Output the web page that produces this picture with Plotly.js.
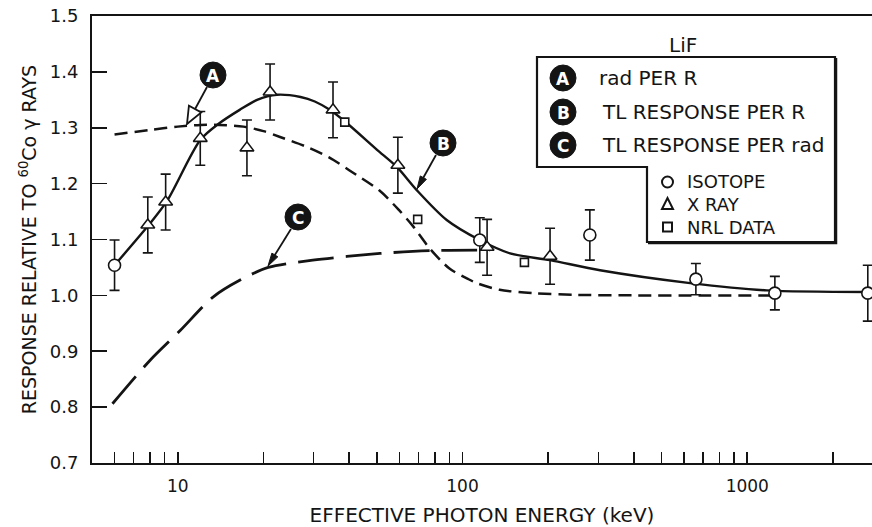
<!DOCTYPE html>
<html>
<head>
<meta charset="utf-8">
<script src="https://cdn.plot.ly/plotly-3.0.1.min.js"></script>
<style>
  html, body { margin: 0; padding: 0; background: #ffffff; }
  #chart { width: 872px; height: 527px; }
</style>
</head>
<body>
<div id="chart"></div>
<script>
// ---- Data ----
// Curve A: rad PER R (short dashes)
const curveA_E = [6, 8, 10, 12, 14, 17, 20, 23, 28, 34, 40, 51, 60, 67, 77, 90, 104, 112, 135, 177, 250, 400, 700, 1250];
const curveA_R = [1.288, 1.296, 1.302, 1.305, 1.305, 1.302, 1.294, 1.283, 1.267, 1.247, 1.224, 1.188, 1.152, 1.124, 1.083, 1.048, 1.030, 1.022, 1.010, 1.004, 1.001, 1.000, 1.000, 1.000];

// Curve B: TL RESPONSE PER R (solid)
const curveB_E = [6, 8, 9.2, 12, 14, 16.5, 19, 22.3, 27, 30.3, 34.2, 39.3, 50, 58.8, 69.2, 88, 115, 147, 203, 304, 630, 1170, 2650];
const curveB_R = [1.054, 1.129, 1.170, 1.278, 1.308, 1.332, 1.350, 1.359, 1.355, 1.347, 1.332, 1.308, 1.261, 1.230, 1.188, 1.135, 1.099, 1.075, 1.063, 1.045, 1.022, 1.009, 1.006];

// Curve C: TL RESPONSE PER rad (long dashes)
const curveC_E = [5.9, 8, 10.2, 13.3, 16.5, 20.8, 29.8, 51.3, 77, 125];
const curveC_R = [0.806, 0.884, 0.937, 0.997, 1.027, 1.050, 1.063, 1.075, 1.080, 1.081];

// Isotope points (open circles)
const isoE = [6, 115, 280, 660, 1250, 2650];
const isoR = [1.054, 1.099, 1.108, 1.029, 1.004, 1.004];
const isoErr = [0.045, 0.040, 0.045, 0.028, 0.030, 0.050];

// X-ray points (open triangles)
const xrayE = [7.85, 9.07, 12.0, 17.5, 21.1, 35.1, 59.3, 122, 203];
const xrayR = [1.126, 1.167, 1.281, 1.264, 1.364, 1.332, 1.233, 1.086, 1.070];
const xrayErr = [0.05, 0.05, 0.048, 0.05, 0.05, 0.05, 0.05, 0.05, 0.05];

// NRL data (open squares)
const nrlE = [38.6, 69.6, 165];
const nrlR = [1.310, 1.136, 1.059];

// Axis ticks
const xTickVals = [6, 7, 8, 9, 10, 20, 30, 40, 50, 60, 70, 80, 90, 100, 200, 300, 400, 500, 600, 700, 800, 900, 1000, 2000];
const xTickText = ['', '', '', '', '10', '', '', '', '', '', '', '', '', '100', '', '', '', '', '', '', '', '', '1000', ''];
const yTickVals = [0.7, 0.8, 0.9, 1.0, 1.1, 1.2, 1.3, 1.4, 1.5];
const yTickText = ['0.7', '0.8', '0.9', '1.0', '1.1', '1.2', '1.3', '1.4', '1.5'];

// Legend / label texts
const curveLabels = ['A', 'B', 'C'];
const curveNames = ['rad PER R', 'TL RESPONSE PER R', 'TL RESPONSE PER rad'];
const pointNames = ['ISOTOPE', 'X RAY', 'NRL DATA'];

// ---- Styling helpers (pixel -> paper) ----
const L = 92, R = 0, T = 16, B = 64, W = 872, H = 527;
const PW = W - L - R, PH = H - T - B;
const px = x => (x - L) / PW;
const py = y => (H - B - y) / PH;
const INK = '#141414';
const FONT = 'DejaVu Sans, Liberation Sans, sans-serif';

const traces = [
  { x: curveA_E, y: curveA_R, mode: 'lines', name: curveNames[0],
    line: { color: INK, width: 2.5, dash: '13px,7px', shape: 'spline', smoothing: 0.8 }, hoverinfo: 'skip' },
  { x: curveC_E, y: curveC_R, mode: 'lines', name: curveNames[2],
    line: { color: INK, width: 2.8, dash: '36px,12px', shape: 'spline', smoothing: 0.8 }, hoverinfo: 'skip' },
  { x: curveB_E, y: curveB_R, mode: 'lines', name: curveNames[1],
    line: { color: INK, width: 2.4, shape: 'spline', smoothing: 0.8 }, hoverinfo: 'skip' },
  { x: nrlE, y: nrlR, mode: 'markers', name: pointNames[2],
    marker: { symbol: 'square', size: 8, color: '#ffffff', line: { color: INK, width: 1.6 } } },
  { x: xrayE, y: xrayR, mode: 'markers', name: pointNames[1],
    error_y: { type: 'data', array: xrayErr, visible: true, color: INK, thickness: 1.6, width: 5 },
    marker: { symbol: 'triangle-up', size: 12, color: '#ffffff', line: { color: INK, width: 1.6 } } },
  { x: isoE, y: isoR, mode: 'markers', name: pointNames[0], cliponaxis: false,
    error_y: { type: 'data', array: isoErr, visible: true, color: INK, thickness: 1.6, width: 5 },
    marker: { symbol: 'circle', size: 12, color: '#ffffff', line: { color: INK, width: 1.6 } } }
];

const shapes = [];
const annotations = [];

// Legend box with notch
shapes.push({
  type: 'path', xref: 'paper', yref: 'paper', layer: 'above',
  path: `M ${px(537)},${py(57)} L ${px(835)},${py(57)} L ${px(835)},${py(242)} L ${px(647)},${py(242)} L ${px(647)},${py(167)} L ${px(537)},${py(167)} Z`,
  fillcolor: '#ffffff', line: { color: INK, width: 2.2 }
});
shapes.push({
  type: 'path', xref: 'paper', yref: 'paper', layer: 'above',
  path: `M ${px(836.5)},${py(58)} L ${px(836.5)},${py(243.5)} L ${px(648)},${py(243.5)}`,
  line: { color: INK, width: 1.5 }
});

annotations.push({ xref: 'paper', yref: 'paper', x: px(683), y: py(45), text: 'LiF', showarrow: false,
  xanchor: 'center', yanchor: 'middle', font: { family: FONT, size: 20, color: INK } });

// Black circle labels (legend + on the curves)
function circleLabel(cx, cy, letter) {
  const r = 13;
  shapes.push({ type: 'circle', xref: 'paper', yref: 'paper', layer: 'above',
    x0: px(cx - r), x1: px(cx + r), y0: py(cy + r), y1: py(cy - r),
    fillcolor: INK, line: { color: INK, width: 1 } });
  annotations.push({ xref: 'paper', yref: 'paper', x: px(cx), y: py(cy + 0.5), text: '<b>' + letter + '</b>',
    showarrow: false, xanchor: 'center', yanchor: 'middle', font: { family: FONT, size: 17, color: '#ffffff' } });
}
const legendRowsY = [78, 112, 145];
for (let i = 0; i < 3; i++) {
  circleLabel(563, legendRowsY[i], curveLabels[i]);
  annotations.push({ xref: 'paper', yref: 'paper', x: px(i === 0 ? 597 : 600), y: py(legendRowsY[i]),
    text: curveNames[i], showarrow: false, xanchor: 'left', yanchor: 'middle',
    font: { family: FONT, size: 20, color: INK } });
}
// Point-type legend entries
const ptRowsY = [182, 204, 227];
shapes.push({ type: 'circle', xref: 'paper', yref: 'paper', layer: 'above',
  x0: px(662), x1: px(673), y0: py(187.5), y1: py(176.5), fillcolor: '#ffffff', line: { color: INK, width: 2 } });
shapes.push({ type: 'path', xref: 'paper', yref: 'paper', layer: 'above',
  path: `M ${px(662)},${py(209)} L ${px(673)},${py(209)} L ${px(667.5)},${py(198)} Z`, fillcolor: '#ffffff', line: { color: INK, width: 2 } });
shapes.push({ type: 'rect', xref: 'paper', yref: 'paper', layer: 'above',
  x0: px(663), x1: px(672), y0: py(231.5), y1: py(222.5), fillcolor: '#ffffff', line: { color: INK, width: 2 } });
for (let i = 0; i < 3; i++) {
  annotations.push({ xref: 'paper', yref: 'paper', x: px(685), y: py(ptRowsY[i]),
    text: pointNames[i], showarrow: false, xanchor: 'left', yanchor: 'middle',
    font: { family: FONT, size: 18, color: INK } });
}

// Curve labels with arrows (drawn as shapes)
circleLabel(213, 75, curveLabels[0]);
circleLabel(443, 143, curveLabels[1]);
circleLabel(298, 217, curveLabels[2]);
const arrows = [
  { tip: [187, 124], tail: [207, 87], len: 17, half: 7, open: true },
  { tip: [417, 189], tail: [436, 155], len: 13, half: 3.5, open: false },
  { tip: [268, 266], tail: [291, 229], len: 13, half: 3.5, open: false }
];
arrows.forEach(a => {
  const dx = a.tail[0] - a.tip[0], dy = a.tail[1] - a.tip[1];
  const d = Math.hypot(dx, dy), ux = dx / d, uy = dy / d;
  const bx = a.tip[0] + ux * a.len, by = a.tip[1] + uy * a.len;
  const nx = -uy, ny = ux;
  shapes.push({ type: 'line', xref: 'paper', yref: 'paper', layer: 'above',
    x0: px(a.open ? bx : a.tip[0] + ux * 4), y0: py(a.open ? by : a.tip[1] + uy * 4),
    x1: px(a.tail[0]), y1: py(a.tail[1]), line: { color: INK, width: 1.8 } });
  shapes.push({ type: 'path', xref: 'paper', yref: 'paper', layer: 'above',
    path: `M ${px(a.tip[0])},${py(a.tip[1])} L ${px(bx + nx * a.half)},${py(by + ny * a.half)} L ${px(bx - nx * a.half)},${py(by - ny * a.half)} Z`,
    fillcolor: a.open ? '#ffffff' : INK, line: { color: INK, width: a.open ? 1.8 : 1 } });
});

const layout = {
  width: W, height: H,
  margin: { l: L, r: R, t: T, b: B, pad: 0 },
  paper_bgcolor: '#ffffff', plot_bgcolor: '#ffffff',
  showlegend: false,
  font: { family: FONT, color: INK },
  xaxis: {
    type: 'log', range: [Math.log10(5), 3.438], autorange: false,
    tickmode: 'array', tickvals: xTickVals, ticktext: xTickText,
    ticks: 'inside', ticklen: 11, tickwidth: 1.6, tickcolor: INK,
    showline: true, linecolor: INK, linewidth: 2, mirror: true,
    showgrid: false, zeroline: false, ticklabelstandoff: 7,
    tickfont: { family: FONT, size: 17, color: INK },
    title: { text: 'EFFECTIVE PHOTON ENERGY (keV)', standoff: 14, font: { family: FONT, size: 20, color: INK } }
  },
  yaxis: {
    range: [0.7, 1.5], autorange: false,
    tickmode: 'array', tickvals: yTickVals, ticktext: yTickText,
    ticks: 'inside', ticklen: 15, tickwidth: 1.6, tickcolor: INK,
    showline: true, linecolor: INK, linewidth: 2,
    showgrid: false, zeroline: false, ticklabelstandoff: 8,
    tickfont: { family: FONT, size: 18, color: INK },
    title: { text: 'RESPONSE RELATIVE TO <sup>60</sup>Co γ RAYS', standoff: 8, font: { family: FONT, size: 19, color: INK } }
  },
  shapes: shapes,
  annotations: annotations
};

Plotly.newPlot('chart', traces, layout, { displayModeBar: false, staticPlot: true });
</script>
</body>
</html>
